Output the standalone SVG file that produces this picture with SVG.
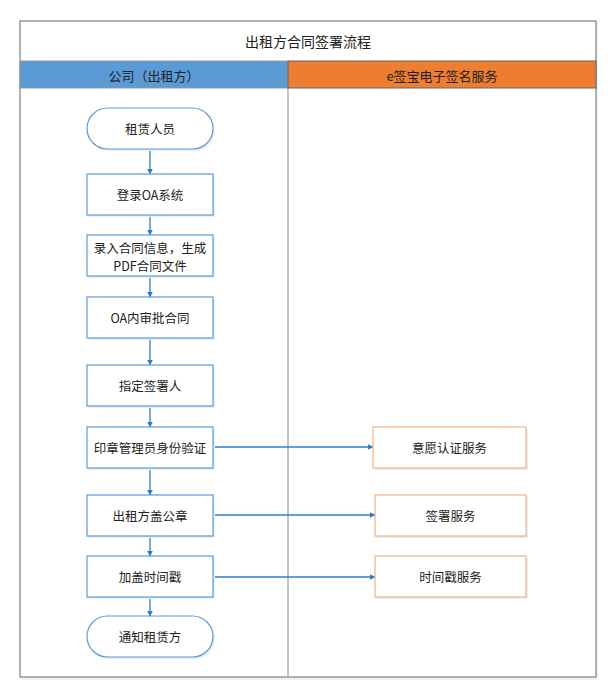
<svg xmlns="http://www.w3.org/2000/svg" width="608" height="700" viewBox="0 0 608 700">
<style>
.t{font-family:"Noto Sans CJK SC","Noto Sans",sans-serif;font-size:12.5px;fill:#222;text-anchor:middle;dominant-baseline:central}
.b{fill:#fff;stroke:#5B9BD5;stroke-width:1.2}
.o{fill:#fff;stroke:#F4B183;stroke-width:1.2}
.c{stroke:#2A7FC9;stroke-width:1.3;fill:none;marker-end:url(#a)}
.sh{fill:#E6EEF7}
</style>
<defs>
<marker id="a" viewBox="0 0 10 10" refX="9" refY="5" markerWidth="6" markerHeight="6" orient="auto" markerUnits="userSpaceOnUse"><path d="M0,0L10,5L0,10z" fill="#2A7FC9"/></marker>
</defs>
<g id="frame">
<rect x="22" y="23" width="576" height="657" fill="#EEF3F9"/>
<rect x="20" y="21" width="576" height="656" fill="#fff" stroke="#666" stroke-width="1"/>
<rect x="20" y="61" width="268" height="27" fill="#5B9BD5" stroke="#999" stroke-width="1"/>
<rect x="288" y="61" width="308" height="27" fill="#ED7D31" stroke="#666" stroke-width="1"/>
<line x1="288" y1="88" x2="288" y2="677" stroke="#888" stroke-width="1"/>
<text class="t" x="308" y="41" style="font-size:14px">出租方合同签署流程</text>
<text class="t" x="154" y="75" style="font-size:13px">公司（出租方）</text>
<text class="t" x="442" y="75" style="font-size:13px">e签宝电子签名服务</text>
</g>
<g id="connectors">
<line class="c" x1="150" y1="149" x2="150" y2="174"/>
<line class="c" x1="150" y1="215" x2="150" y2="235"/>
<line class="c" x1="150" y1="276" x2="150" y2="297"/>
<line class="c" x1="150" y1="338" x2="150" y2="365"/>
<line class="c" x1="150" y1="406" x2="150" y2="427"/>
<line class="c" x1="150" y1="468" x2="150" y2="495"/>
<line class="c" x1="150" y1="536" x2="150" y2="556"/>
<line class="c" x1="150" y1="597" x2="150" y2="616"/>
<line class="c" x1="213" y1="447" x2="373" y2="447"/>
<line class="c" x1="213" y1="515" x2="375" y2="515"/>
<line class="c" x1="213" y1="577" x2="375" y2="577"/>
</g>
<g id="n1"><rect class="sh" x="89" y="110" width="126" height="41" rx="20.5"/><rect class="b" x="87" y="108" width="126" height="41" rx="20.5"/><text class="t" x="150" y="128.5">租赁人员</text></g>
<g id="n2"><rect class="sh" x="89" y="176" width="126" height="41"/><rect class="b" x="87" y="174" width="126" height="41"/><text class="t" x="150" y="194.5">登录OA系统</text></g>
<g id="n3"><rect class="sh" x="89" y="237" width="126" height="41"/><rect class="b" x="87" y="235" width="126" height="41"/><text class="t" x="150" y="247">录入合同信息，生成</text><text class="t" x="150" y="265">PDF合同文件</text></g>
<g id="n4"><rect class="sh" x="89" y="299" width="126" height="41"/><rect class="b" x="87" y="297" width="126" height="41"/><text class="t" x="150" y="317.5">OA内审批合同</text></g>
<g id="n5"><rect class="sh" x="89" y="367" width="126" height="41"/><rect class="b" x="87" y="365" width="126" height="41"/><text class="t" x="150" y="385.5">指定签署人</text></g>
<g id="n6"><rect class="sh" x="89" y="429" width="126" height="41"/><rect class="b" x="87" y="427" width="126" height="41"/><text class="t" x="150" y="447.5">印章管理员身份验证</text></g>
<g id="n7"><rect class="sh" x="89" y="497" width="126" height="41"/><rect class="b" x="87" y="495" width="126" height="41"/><text class="t" x="150" y="515.5">出租方盖公章</text></g>
<g id="n8"><rect class="sh" x="89" y="558" width="126" height="41"/><rect class="b" x="87" y="556" width="126" height="41"/><text class="t" x="150" y="576.5">加盖时间戳</text></g>
<g id="n9"><rect class="sh" x="89" y="618" width="126" height="41" rx="20.5"/><rect class="b" x="87" y="616" width="126" height="41" rx="20.5"/><text class="t" x="150" y="636.5">通知租赁方</text></g>
<g id="r1"><rect class="sh" x="375" y="429" width="153" height="41"/><rect class="o" x="373" y="427" width="153" height="41"/><text class="t" x="449.5" y="447.5">意愿认证服务</text></g>
<g id="r2"><rect class="sh" x="377" y="497" width="151" height="41"/><rect class="o" x="375" y="495" width="151" height="41"/><text class="t" x="450.5" y="515.5">签署服务</text></g>
<g id="r3"><rect class="sh" x="377" y="558" width="151" height="41"/><rect class="o" x="375" y="556" width="151" height="41"/><text class="t" x="450.5" y="576.5">时间戳服务</text></g>
</svg>
